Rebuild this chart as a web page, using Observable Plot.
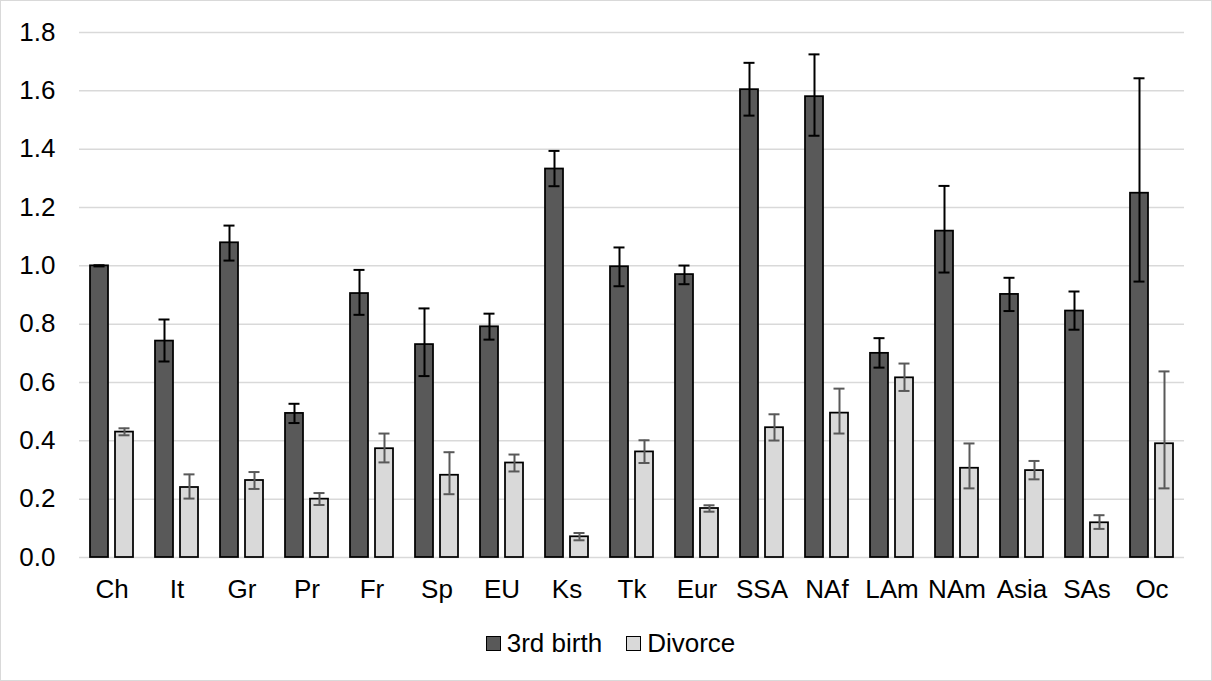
<!DOCTYPE html>
<html>
<head>
<meta charset="utf-8">
<script src="https://cdn.jsdelivr.net/npm/d3@7"></script>
<script src="https://cdn.jsdelivr.net/npm/@observablehq/plot@0.6"></script>
<style>
  html, body { margin: 0; padding: 0; background: #fff; }
  #wrap { position: relative; width: 1210px; height: 679px; border: 1px solid #d9d9d9; background: #fff; font-family: "Liberation Sans", Arial, sans-serif; }
  #chart svg { display: block; }
  #legend { position: absolute; left: 9px; top: 628px; width: 1201px; height: 28px; display: flex; justify-content: center; align-items: center; font-size: 26px; color: #000; }
  .item { display: flex; align-items: center; margin: 0 12px; }
  .sw { width: 13px; height: 13px; border: 1.5px solid #000; margin-right: 6px; }
</style>
</head>
<body>
<div id="wrap">
  <div id="chart"></div>
  <div id="legend"></div>
</div>
<script>
const cats = ["Ch","It","Gr","Pr","Fr","Sp","EU","Ks","Tk","Eur","SSA","NAf","LAm","NAm","Asia","SAs","Oc"];
const series = ["3rd birth", "Divorce"];
const seriesColors = ["#595959", "#d9d9d9"];
const errColors = ["#000000", "#595959"];
const birth   = [1.000,0.742,1.079,0.494,0.905,0.730,0.791,1.332,0.997,0.970,1.604,1.580,0.700,1.119,0.902,0.845,1.249];
const birthLo = [0.998,0.672,1.018,0.461,0.832,0.622,0.747,1.273,0.930,0.937,1.515,1.446,0.651,0.977,0.845,0.781,0.946];
const birthHi = [1.002,0.816,1.138,0.527,0.986,0.854,0.836,1.394,1.063,1.001,1.696,1.725,0.752,1.274,0.959,0.912,1.643];
const divorce = [0.430,0.240,0.264,0.200,0.373,0.282,0.324,0.071,0.362,0.168,0.445,0.495,0.616,0.306,0.298,0.119,0.390];
const divLo   = [0.419,0.202,0.235,0.180,0.326,0.217,0.295,0.059,0.324,0.157,0.401,0.425,0.571,0.237,0.268,0.098,0.237];
const divHi   = [0.443,0.285,0.293,0.221,0.425,0.361,0.353,0.084,0.402,0.179,0.491,0.579,0.665,0.391,0.331,0.145,0.638];
const yTicks = [0, 0.2, 0.4, 0.6, 0.8, 1.0, 1.2, 1.4, 1.6, 1.8];

const rows = [];
cats.forEach((c, i) => {
  rows.push({cat: c, series: series[0], value: birth[i], lo: birthLo[i], hi: birthHi[i]});
  rows.push({cat: c, series: series[1], value: divorce[i], lo: divLo[i], hi: divHi[i]});
});

const isB = d => d.series === series[0];
const isD = d => d.series === series[1];

const chart = Plot.plot({
  width: 1210,
  height: 618,
  marginTop: 31,
  marginBottom: 62,
  marginLeft: 71,
  marginRight: 21,
  style: {fontSize: "26px", fontFamily: "'Liberation Sans', Arial, sans-serif", color: "#000", background: "transparent"},
  facet: {data: rows, x: "cat"},
  fx: {domain: cats, padding: 0, tickSize: 0, tickPadding: 22, label: null, axis: "bottom"},
  x: {domain: series, paddingInner: 0.264, paddingOuter: 0.398, axis: null},
  y: {domain: [0, 1.8], ticks: yTicks, tickFormat: d3.format(".1f"), tickSize: 0, tickPadding: 24, label: null},
  color: {domain: series, range: seriesColors},
  marks: [
    Plot.gridY(yTicks, {stroke: "#d9d9d9", strokeOpacity: 1, strokeWidth: 1.5}),
    Plot.barY(rows, {x: "series", y: "value", fill: "series", stroke: "#000", strokeWidth: 1.75}),
    Plot.ruleX(rows, {filter: isB, x: "series", y1: "lo", y2: "hi", stroke: errColors[0], strokeWidth: 2}),
    Plot.tickY(rows, {filter: isB, x: "series", y: "lo", stroke: errColors[0], strokeWidth: 2, insetLeft: 3.5, insetRight: 3.5}),
    Plot.tickY(rows, {filter: isB, x: "series", y: "hi", stroke: errColors[0], strokeWidth: 2, insetLeft: 3.5, insetRight: 3.5}),
    Plot.ruleX(rows, {filter: isD, x: "series", y1: "lo", y2: "hi", stroke: errColors[1], strokeWidth: 2}),
    Plot.tickY(rows, {filter: isD, x: "series", y: "lo", stroke: errColors[1], strokeWidth: 2, insetLeft: 3.5, insetRight: 3.5}),
    Plot.tickY(rows, {filter: isD, x: "series", y: "hi", stroke: errColors[1], strokeWidth: 2, insetLeft: 3.5, insetRight: 3.5})
  ]
});
document.getElementById("chart").appendChild(chart);

const legend = document.getElementById("legend");
series.forEach((s, i) => {
  const item = document.createElement("div");
  item.className = "item";
  const sw = document.createElement("span");
  sw.className = "sw";
  sw.style.background = seriesColors[i];
  const label = document.createElement("span");
  label.textContent = s;
  item.appendChild(sw);
  item.appendChild(label);
  legend.appendChild(item);
});
</script>
</body>
</html>
